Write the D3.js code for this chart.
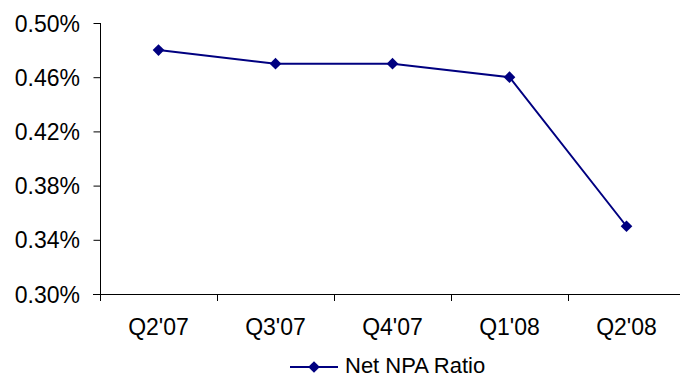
<!DOCTYPE html>
<html><head><meta charset="utf-8">
<script src="https://cdn.jsdelivr.net/npm/d3@7"></script>
<style>body{margin:0;background:#fff}svg{display:block}text{font-family:Arial,"Liberation Sans",sans-serif;fill:#000}</style>
</head><body><svg id="c" width="680" height="379"></svg>
<script>
const categories = ["Q2'07","Q3'07","Q4'07","Q1'08","Q2'08"];
const values = [0.48,0.47,0.47,0.46,0.35];
const yTicks = [0.30,0.34,0.38,0.42,0.46,0.50];
const seriesName = "Net NPA Ratio";

const svg = d3.select("#c");
const m = {l:100, t:23, b:294};
const band = 117;
const x = d3.scaleBand().domain(categories).range([m.l, m.l + band*categories.length]);
const y = d3.scaleLinear().domain([0.30,0.50]).range([m.b, m.t]);
const color = "#000080";
const fs = 23;

// y axis
const ya = svg.append("g").attr("transform",`translate(${m.l},0)`)
  .call(d3.axisLeft(y).tickValues(yTicks).tickSize(7).tickPadding(13).tickFormat(d=>d.toFixed(2)+"%"));
ya.select(".domain").attr("d",`M0.5,${m.t}V${m.b}`).attr("stroke","#000");
ya.selectAll(".tick line").attr("stroke","#000").attr("transform","translate(0.5,0)");
ya.selectAll("text").style("font-size",fs+"px").attr("dy","0.35em");

// x axis
const xa = svg.append("g").attr("transform",`translate(0,${m.b})`);
xa.append("line").attr("x1",m.l-7).attr("x2",m.l+band*categories.length).attr("y1",0.5).attr("y2",0.5).attr("stroke","#000");
const bounds = d3.range(categories.length+1).map(i=>m.l+i*band);
xa.selectAll(".bt").data(bounds).join("line").attr("x1",d=>d+0.5).attr("x2",d=>d+0.5).attr("y1",0).attr("y2",7).attr("stroke","#000");
xa.selectAll(".lbl").data(categories).join("text")
  .attr("x",d=>x(d)+x.bandwidth()/2).attr("y",41).attr("text-anchor","middle").style("font-size",fs+"px").text(d=>d);

// line
const px = (d,i)=>x(categories[i])+x.bandwidth()/2;
svg.append("path").datum(values).attr("fill","none").attr("stroke",color).attr("stroke-width",2)
  .attr("d",d3.line().x(px).y(d=>y(d)));
svg.selectAll(".pt").data(values).join("path")
  .attr("d",d3.symbol().type(d3.symbolSquare).size(68)).attr("fill",color)
  .attr("transform",(d,i)=>`translate(${px(d,i)},${y(d)}) rotate(45)`);

// legend
const lg = svg.append("g");
lg.append("line").attr("x1",290).attr("x2",338).attr("y1",367).attr("y2",367).attr("stroke",color).attr("stroke-width",2);
lg.append("path").attr("d",d3.symbol().type(d3.symbolSquare).size(68)).attr("fill",color).attr("transform","translate(314,367) rotate(45)");
lg.append("text").attr("x",345).attr("y",373).style("font-size","22px").text(seriesName);
</script></body></html>
